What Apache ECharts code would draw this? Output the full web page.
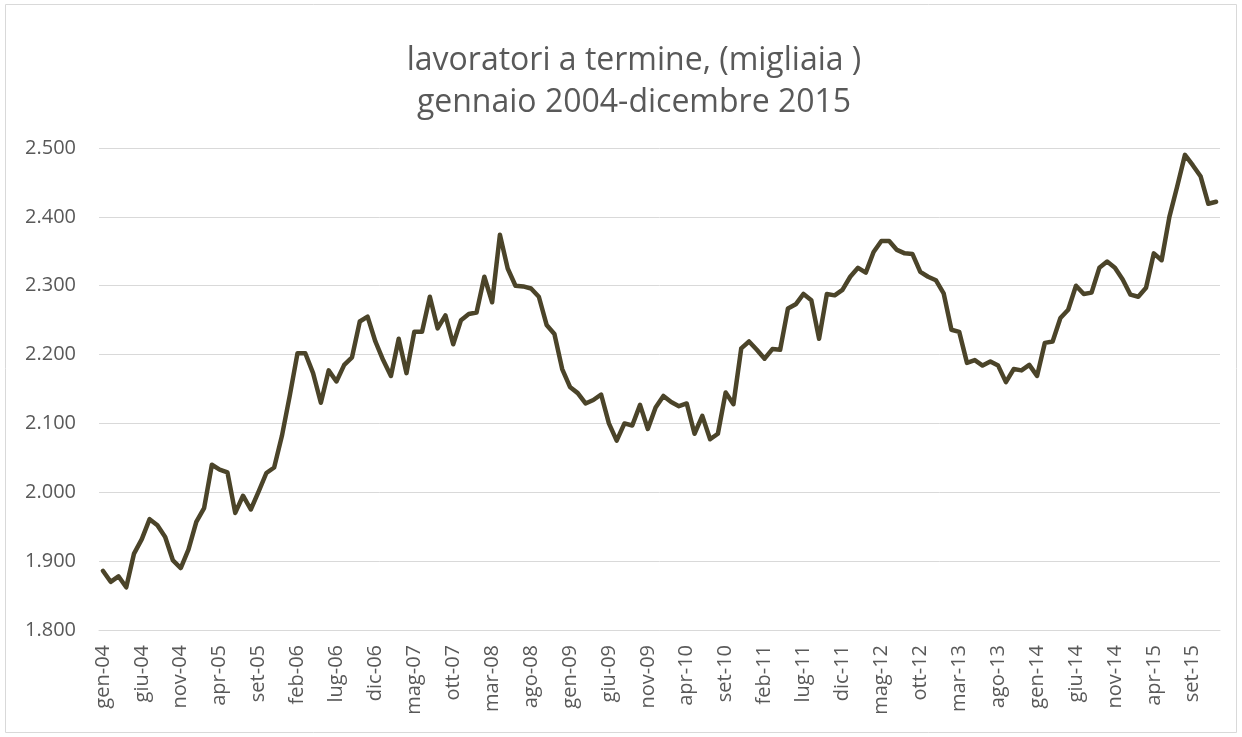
<!DOCTYPE html>
<html>
<head>
<meta charset="utf-8">
<script src="https://cdn.jsdelivr.net/npm/echarts@6/dist/echarts.min.js"></script>
<style>
  html, body { margin: 0; padding: 0; background: #fff; }
  #chart { width: 1242px; height: 737px; }
</style>
</head>
<body>
<div id="chart"></div>
<script>
// mesi (etichette asse x) e anni
const mesi = ['gen', 'feb', 'mar', 'apr', 'mag', 'giu', 'lug', 'ago', 'set', 'ott', 'nov', 'dic'];
const anni = ['04', '05', '06', '07', '08', '09', '10', '11', '12', '13', '14', '15'];

// lavoratori a termine, migliaia, un array per anno
const v2004 = [1886, 1870, 1878, 1862, 1911, 1932, 1961, 1952, 1935, 1901, 1890, 1917];
const v2005 = [1957, 1977, 2040, 2033, 2029, 1970, 1995, 1975, 2001, 2028, 2036, 2082];
const v2006 = [2140, 2202, 2202, 2173, 2130, 2177, 2161, 2185, 2196, 2248, 2255, 2219];
const v2007 = [2192, 2169, 2223, 2173, 2233, 2233, 2284, 2238, 2257, 2215, 2250, 2259];
const v2008 = [2261, 2313, 2276, 2374, 2325, 2300, 2299, 2296, 2284, 2243, 2230, 2179];
const v2009 = [2153, 2144, 2129, 2134, 2142, 2100, 2075, 2100, 2097, 2127, 2092, 2123];
const v2010 = [2140, 2131, 2125, 2129, 2085, 2111, 2077, 2085, 2145, 2128, 2209, 2219];
const v2011 = [2207, 2194, 2208, 2207, 2267, 2273, 2288, 2279, 2223, 2288, 2286, 2294];
const v2012 = [2313, 2326, 2319, 2349, 2365, 2365, 2352, 2347, 2346, 2320, 2313, 2308];
const v2013 = [2289, 2236, 2233, 2188, 2192, 2184, 2190, 2184, 2160, 2179, 2177, 2185];
const v2014 = [2169, 2217, 2219, 2253, 2265, 2300, 2288, 2290, 2326, 2335, 2326, 2309];
const v2015 = [2287, 2284, 2297, 2347, 2337, 2400, 2444, 2490, 2475, 2459, 2419, 2422];

const categorie = [];
anni.forEach(a => mesi.forEach(m => categorie.push(m + '-' + a)));
const valori = [].concat(v2004, v2005, v2006, v2007, v2008, v2009,
                         v2010, v2011, v2012, v2013, v2014, v2015);

const font = "'Open Sans', 'Noto Sans', sans-serif";
const grigio = '#595959';

// 2500 -> "2.500"
function migliaia(v) {
    const s = String(Math.round(v));
    return s.length > 3 ? s.slice(0, -3) + '.' + s.slice(-3) : s;
}

const chart = echarts.init(document.getElementById('chart'));
chart.setOption({
    animation: false,
    title: {
        text: 'lavoratori a termine, (migliaia )\ngennaio 2004-dicembre 2015',
        left: 629,
        textAlign: 'center',
        top: 35,
        textStyle: {
            color: grigio,
            fontFamily: font,
            fontWeight: 'normal',
            fontSize: 32,
            lineHeight: 42
        }
    },
    graphic: [{
        type: 'rect',
        shape: { x: 5.5, y: 4.5, width: 1231, height: 728 },
        style: { fill: 'none', stroke: '#d9d9d9', lineWidth: 1 },
        silent: true
    }],
    grid: { left: 99, right: 22, top: 148, bottom: 107 },
    xAxis: {
        type: 'category',
        data: categorie,
        boundaryGap: true,
        axisLine: { show: true, lineStyle: { color: '#d9d9d9', width: 1 } },
        axisTick: { show: false },
        axisLabel: {
            interval: 4,
            rotate: 90,
            margin: 15,
            color: grigio,
            fontFamily: font,
            fontSize: 20
        }
    },
    yAxis: {
        type: 'value',
        min: 1800,
        max: 2500,
        interval: 100,
        axisLine: { show: false },
        axisTick: { show: false },
        splitLine: { lineStyle: { color: '#d9d9d9', width: 1 } },
        axisLabel: {
            margin: 23,
            color: grigio,
            fontFamily: font,
            fontSize: 20,
            formatter: migliaia
        }
    },
    series: [{
        name: 'lavoratori a termine',
        type: 'line',
        data: valori,
        showSymbol: false,
        smooth: false,
        lineStyle: { color: '#4b4429', width: 4.5, join: 'round', cap: 'round' }
    }]
});
</script>
</body>
</html>
